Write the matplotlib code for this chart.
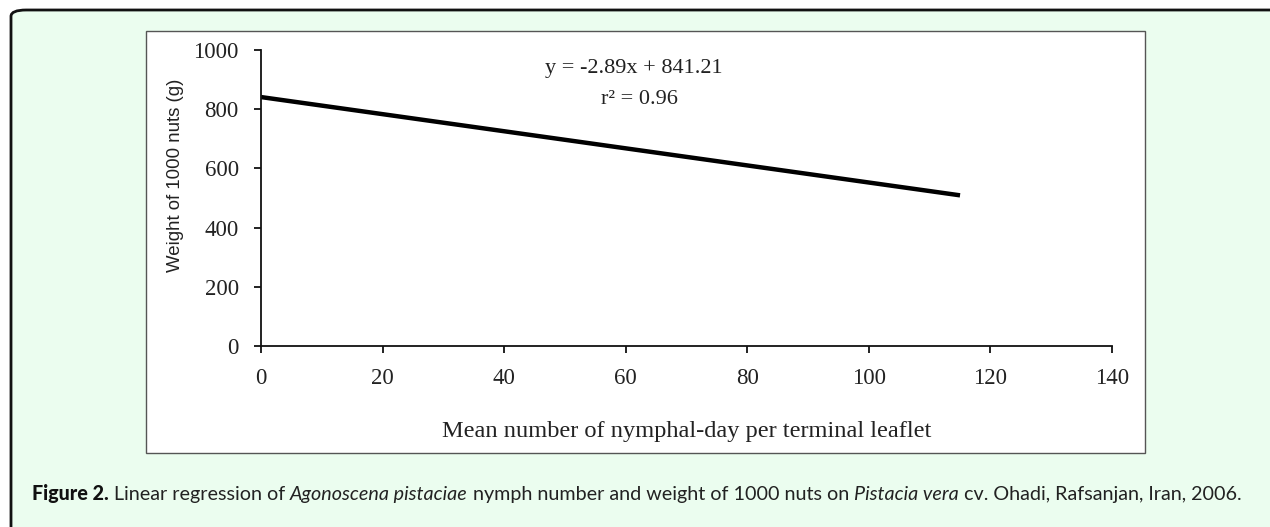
import matplotlib
matplotlib.use("Agg")
import matplotlib.pyplot as plt
from matplotlib.patches import FancyBboxPatch, Rectangle

# regression line
x_fit = [0, 115]
y_fit = [841, 509]
x_ticks = [0, 20, 40, 60, 80, 100, 120, 140]
y_ticks = [0, 200, 400, 600, 800, 1000]
eq_text = "y = -2.89x + 841.21"
r2_text = "r\u00b2 = 0.96"
x_label = "Mean number of nymphal-day per terminal leaflet"
y_label = "Weight of 1000 nuts (g)"
caption = [("Figure 2.", "black", "normal"),
           (" Linear regression of ", "normal", "normal"),
           ("Agonoscena pistaciae", "normal", "italic"),
           (" nymph number and weight of 1000 nuts on ", "normal", "normal"),
           ("Pistacia vera", "normal", "italic"),
           (" cv. Ohadi, Rafsanjan, Iran, 2006.", "normal", "normal")]

W, H = 1270, 527
fig = plt.figure(figsize=(W / 100, H / 100), dpi=100)
fig.patch.set_facecolor("white")


def px(x, y):
    return x / W, 1 - y / H


# green panel with rounded top-left corner
panel = FancyBboxPatch(px(11, 600), 1400 / W, 590 / H,
                       boxstyle="round,pad=0,rounding_size=0.012",
                       transform=fig.transFigure, facecolor="#ebfdef",
                       edgecolor="#111111", linewidth=2, zorder=0)
fig.patches.append(panel)

# white chart box
box = Rectangle(px(146, 453), (1145 - 146) / W, (453 - 31) / H,
                transform=fig.transFigure, facecolor="white",
                edgecolor="#555555", linewidth=1, zorder=1)
fig.patches.append(box)

l, b = px(261, 346)
r, t = px(1112, 50)
ax = fig.add_axes([l, b, r - l, t - b])
ax.set_facecolor("none")
ax.set_zorder(2)

ax.plot(x_fit, y_fit, color="black", linewidth=3.2, solid_capstyle="butt")

ax.set_xlim(0, 140)
ax.set_ylim(0, 1000)
ax.set_xticks(x_ticks)
ax.set_yticks(y_ticks)
for s in ["top", "right"]:
    ax.spines[s].set_visible(False)
for s in ["left", "bottom"]:
    ax.spines[s].set_linewidth(1.3)
    ax.spines[s].set_color("#111111")

serif = "Liberation Serif"
ax.tick_params(axis="both", direction="out", length=5, width=1.3,
               color="#111111", labelsize=16.5, labelcolor="#222222")
ax.tick_params(axis="y", pad=11)
ax.tick_params(axis="x", pad=11)
for lab in ax.get_xticklabels() + ax.get_yticklabels():
    lab.set_fontfamily(serif)

fig.text(*px(634, 68), eq_text, family=serif, fontsize=16, color="#222222",
         ha="center", va="center", zorder=3)
fig.text(*px(639, 99), r2_text, family=serif, fontsize=16, color="#222222",
         ha="center", va="center", zorder=3)
fig.text(*px(687, 432), x_label, family=serif, fontsize=17.6, color="#222222",
         ha="center", va="center", zorder=3)
fig.text(*px(175, 175), y_label, family="Liberation Sans", fontsize=13.4,
         color="#222222", rotation=90, ha="center", va="center", zorder=3)

# caption pieces, placed one after another
cap_texts = []
for txt, weight, style in caption:
    cap_texts.append(fig.text(*px(32, 500), txt, family="Lato", fontsize=14.2,
                              fontweight=weight, fontstyle=style,
                              color="#111111" if weight != "normal" else "#222222",
                              va="baseline", ha="left", zorder=3))

fig.canvas.draw()
renderer = fig.canvas.get_renderer()
x0 = 32
for t in cap_texts:
    t.set_position(px(x0, 500))
    x0 += t.get_window_extent(renderer).width

fig.savefig("out.png", dpi=100)
